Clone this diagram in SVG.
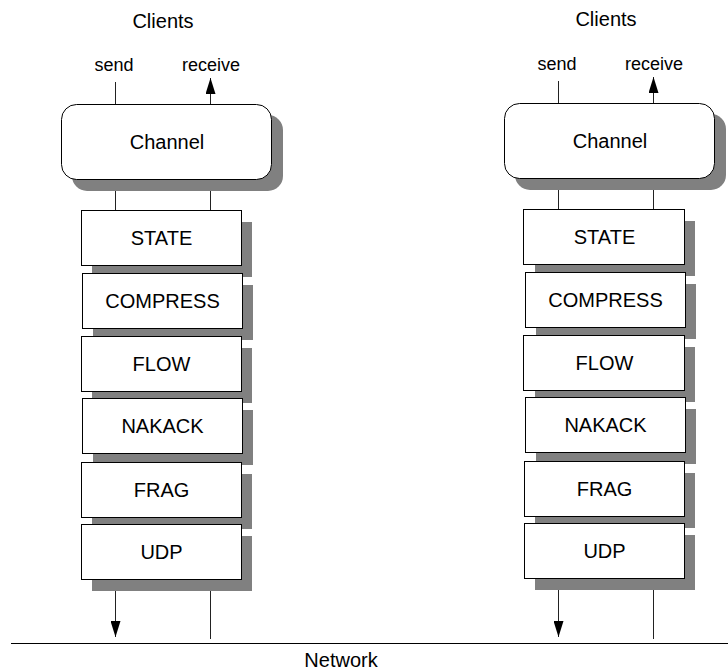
<svg xmlns="http://www.w3.org/2000/svg" width="728" height="671" viewBox="0 0 728 671">
<style>
text{font-family:"Liberation Sans",Arial,sans-serif;fill:#000;text-anchor:middle}
.t{font-size:20px}
.s{font-size:18px}
.box{fill:#fff;stroke:#000;stroke-width:1}
.sh{fill:#808080}
.ln{stroke:#222;stroke-width:1;fill:none}
</style>
<defs>
<marker id="ah" markerUnits="userSpaceOnUse" markerWidth="16" markerHeight="10" refX="16" refY="5" orient="auto"><path d="M0,0 L16,5 L0,10 z" fill="#000"/></marker>
</defs>
<rect width="728" height="671" fill="#fff"/>
<g id="connectors">
<line x1="11" y1="643.5" x2="728" y2="643.5" stroke="#000" stroke-width="1.2"/>
<g id="left-connectors">
<line class="ln" x1="115.5" y1="82" x2="115.5" y2="104"/>
<line class="ln" x1="210.5" y1="104" x2="210.5" y2="78" marker-end="url(#ah)"/>
<line class="ln" x1="115.5" y1="180" x2="115.5" y2="210"/>
<line class="ln" x1="210.5" y1="180" x2="210.5" y2="210"/>
<line class="ln" x1="115.5" y1="579" x2="115.5" y2="637" marker-end="url(#ah)"/>
<line class="ln" x1="210.5" y1="579" x2="210.5" y2="639"/>
</g>
<g id="right-connectors" transform="translate(443,-1)">
<line class="ln" x1="115.5" y1="82" x2="115.5" y2="104"/>
<line class="ln" x1="210.5" y1="104" x2="210.5" y2="78" marker-end="url(#ah)"/>
<line class="ln" x1="115.5" y1="180" x2="115.5" y2="210"/>
<line class="ln" x1="210.5" y1="180" x2="210.5" y2="210"/>
<line class="ln" x1="115.5" y1="579" x2="115.5" y2="638" marker-end="url(#ah)"/>
<line class="ln" x1="210.5" y1="579" x2="210.5" y2="640"/>
</g>
</g>
<g id="left-stack">
<text class="t" x="163" y="28">Clients</text>
<text class="s" x="114" y="71">send</text>
<text class="s" x="211" y="71">receive</text>
<g id="channel-l">
<rect class="sh" x="72" y="115" width="211" height="76" rx="15"/>
<rect class="box" x="61.5" y="104.5" width="210" height="75" rx="15"/>
<text class="t" x="167" y="149">Channel</text>
</g>
<g id="state-l">
<rect class="sh" x="92" y="222" width="160" height="55"/>
<rect class="box" x="81.5" y="210.5" width="160" height="55"/>
<text class="t" x="161.5" y="245">STATE</text>
</g>
<g id="compress-l">
<rect class="sh" x="93" y="285" width="160" height="55"/>
<rect class="box" x="82.5" y="273.5" width="160" height="55"/>
<text class="t" x="162.5" y="308">COMPRESS</text>
</g>
<g id="flow-l">
<rect class="sh" x="92" y="348" width="160" height="55"/>
<rect class="box" x="81.5" y="336.5" width="160" height="55"/>
<text class="t" x="161.5" y="371">FLOW</text>
</g>
<g id="nakack-l">
<rect class="sh" x="93" y="410" width="160" height="55"/>
<rect class="box" x="82.5" y="398.5" width="160" height="55"/>
<text class="t" x="162.5" y="433">NAKACK</text>
</g>
<g id="frag-l">
<rect class="sh" x="92" y="474" width="160" height="55"/>
<rect class="box" x="81.5" y="462.5" width="160" height="55"/>
<text class="t" x="161.5" y="497">FRAG</text>
</g>
<g id="udp-l">
<rect class="sh" x="92" y="536" width="160" height="55"/>
<rect class="box" x="81.5" y="524.5" width="160" height="55"/>
<text class="t" x="161.5" y="559">UDP</text>
</g>
</g>
<g id="right-stack" transform="translate(443,-1)">
<text class="t" x="163" y="27">Clients</text>
<text class="s" x="114" y="71">send</text>
<text class="s" x="211" y="71">receive</text>
<g id="channel-r">
<rect class="sh" x="72" y="115" width="211" height="76" rx="15"/>
<rect class="box" x="61.5" y="104.5" width="210" height="75" rx="15"/>
<text class="t" x="167" y="149">Channel</text>
</g>
<g id="state-r">
<rect class="sh" x="92" y="222" width="160" height="55"/>
<rect class="box" x="80.5" y="210.5" width="161" height="55"/>
<text class="t" x="161.5" y="245">STATE</text>
</g>
<g id="compress-r">
<rect class="sh" x="93" y="285" width="160" height="55"/>
<rect class="box" x="82.5" y="273.5" width="160" height="55"/>
<text class="t" x="162.5" y="308">COMPRESS</text>
</g>
<g id="flow-r">
<rect class="sh" x="92" y="348" width="160" height="55"/>
<rect class="box" x="80.5" y="336.5" width="161" height="55"/>
<text class="t" x="161.5" y="371">FLOW</text>
</g>
<g id="nakack-r">
<rect class="sh" x="93" y="410" width="160" height="55"/>
<rect class="box" x="82.5" y="398.5" width="160" height="55"/>
<text class="t" x="162.5" y="433">NAKACK</text>
</g>
<g id="frag-r">
<rect class="sh" x="92" y="474" width="160" height="55"/>
<rect class="box" x="81.5" y="462.5" width="160" height="55"/>
<text class="t" x="161.5" y="497">FRAG</text>
</g>
<g id="udp-r">
<rect class="sh" x="92" y="536" width="160" height="55"/>
<rect class="box" x="81.5" y="524.5" width="160" height="55"/>
<text class="t" x="161.5" y="559">UDP</text>
</g>
</g>
<g id="network"><text class="t" x="341" y="667">Network</text></g>
</svg>
